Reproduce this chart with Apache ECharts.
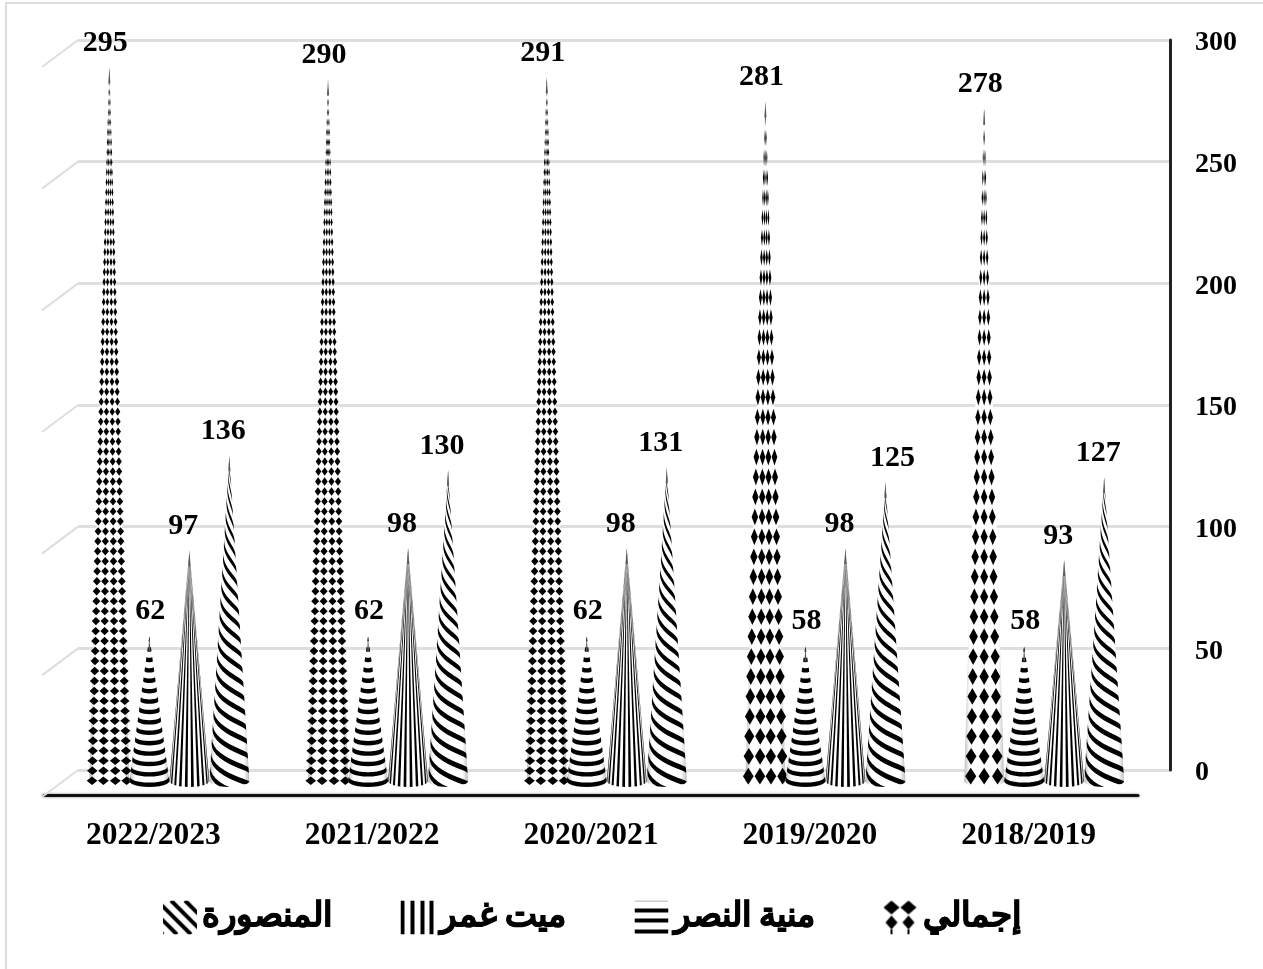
<!DOCTYPE html>
<html>
<head>
<meta charset="utf-8">
<title>chart</title>
<style>
html, body { margin: 0; padding: 0; background: #fff; }
/* the source picture is a soft upscaled image */
#main { width: 1263px; height: 969px; filter: blur(0.7px); }
</style>
<script src="https://cdn.jsdelivr.net/npm/echarts@6/dist/echarts.min.js"></script>
</head>
<body>
<div id="main"></div>
<script>
var categories = ['2022/2023', '2021/2022', '2020/2021', '2019/2020', '2018/2019'];
var totalValues = [295, 290, 291, 281, 278];
var muniaValues = [62, 62, 62, 58, 58];
var mitGhamrValues = [97, 98, 98, 98, 93];
var mansouraValues = [136, 130, 131, 125, 127];
var yTicks = [0, 50, 100, 150, 200, 250, 300];
var seriesNames = ['إجمالي', 'منية النصر', 'ميت غمر', 'المنصورة'];

var SERIF = '"Liberation Serif", "Times New Roman", serif';
var coneOffset = [-60, -20, 20, 60];
var coneRadius = 20;
var coneSag = 6;
// diamond texture is stretched differently from one cone to the next
var diamondRow = [10, 10, 10, 20, 20];
var diamondCols = [
    [-0.87, -0.3, 0.3, 0.87],
    [-0.87, -0.3, 0.3, 0.87],
    [-0.87, -0.3, 0.3, 0.87],
    [-0.87, -0.28, 0.28, 0.87],
    [-0.68, 0, 0.68]
];
var labelShift = [-4, 1, -6, -6];

function legendTile(draw) {
    var c = document.createElement('canvas');
    c.width = 34;
    c.height = 34;
    var ctx = c.getContext('2d');
    ctx.fillStyle = '#fff';
    ctx.fillRect(0, 0, 34, 34);
    ctx.fillStyle = '#000';
    draw(ctx);
    return { image: c, repeat: 'no-repeat' };
}

function rhomb(ctx, x, y, w, h) {
    ctx.beginPath();
    ctx.moveTo(x, y - h);
    ctx.lineTo(x + w, y);
    ctx.lineTo(x, y + h);
    ctx.lineTo(x - w, y);
    ctx.closePath();
    ctx.fill();
}

var tiles = [
    legendTile(function (ctx) {
        rhomb(ctx, 8, 7, 8, 7);
        rhomb(ctx, 25, 7, 8, 7);
        rhomb(ctx, 8, 22, 6, 7);
        rhomb(ctx, 25, 22, 6, 7);
        ctx.fillRect(7, 29, 2, 5);
        ctx.fillRect(24, 29, 2, 5);
    }),
    legendTile(function (ctx) {
        ctx.fillStyle = '#999';
        ctx.fillRect(0, 0, 34, 1);
        ctx.fillStyle = '#000';
        ctx.fillRect(0, 8, 34, 4);
        ctx.fillRect(0, 18, 34, 4);
        ctx.fillRect(0, 29, 34, 4);
    }),
    legendTile(function (ctx) {
        ctx.fillRect(0, 0, 4, 34);
        ctx.fillRect(10, 0, 4, 34);
        ctx.fillRect(20, 0, 4, 34);
        ctx.fillRect(29, 0, 4, 34);
    }),
    legendTile(function (ctx) {
        ctx.lineWidth = 4;
        ctx.strokeStyle = '#000';
        for (var i = -34; i < 40; i += 14) {
            ctx.beginPath();
            ctx.moveTo(i, 0);
            ctx.lineTo(i + 34, 34);
            ctx.stroke();
        }
    })
];

function coneChildren(kind, cat, tx, ty, by) {
    var H = by - ty;
    var kids = [];

    function pt(deg, d) {
        d = Math.max(0, Math.min(H, d));
        var a = deg * Math.PI / 180;
        var k = d / H;
        return [tx + coneRadius * k * Math.sin(a), ty + d + coneSag * k * (Math.cos(a) - 1)];
    }
    function add(points) {
        kids.push({ type: 'polygon', silent: true, shape: { points: points }, style: { fill: '#000' } });
    }
    // band between two curves running across the visible half of the cone
    function band(d0, w, slope) {
        var top = [], bottom = [];
        for (var deg = -90; deg <= 90; deg += 15) {
            var dd = d0 + slope * (deg + 90) / 180;
            top.push(pt(deg, dd));
            bottom.unshift(pt(deg, dd + w));
        }
        add(top.concat(bottom));
    }

    // white body first
    var body = [[tx, ty]];
    for (var deg = -90; deg <= 90; deg += 10) {
        body.push(pt(deg, H));
    }
    kids.push({
        type: 'polygon',
        silent: true,
        shape: { points: body },
        style: {
            fill: {
                type: 'linear', x: 0, y: 0, x2: 1, y2: 0,
                colorStops: [
                    { offset: 0, color: '#bbb' },
                    { offset: 0.14, color: '#fff' },
                    { offset: 0.86, color: '#fff' },
                    { offset: 1, color: '#bbb' }
                ]
            }
        }
    });

    if (kind === 0) {
        var rowH = diamondRow[cat];
        var cols = diamondCols[cat];
        var halfH = rowH * 0.42;
        var halfW = cols.length === 3 ? 0.28 : 0.27;
        for (var d = H - rowH * 0.45; d > 4; d -= rowH) {
            var k = d / H;
            for (var c = 0; c < cols.length; c++) {
                var cx = tx + coneRadius * k * cols[c];
                var cy = ty + d - coneSag * k * 0.3;
                var w = coneRadius * k * halfW;
                add([[cx, cy - halfH], [cx + w, cy], [cx, cy + halfH], [cx - w, cy]]);
            }
        }
    } else if (kind === 1) {
        for (var d1 = H - 4.4; d1 > -5; d1 -= 10.4) {
            band(d1, 4.4, 0);
        }
    } else if (kind === 2) {
        for (var a1 = -85; a1 < 85; a1 += 18) {
            add([[tx, ty], pt(a1, H), pt(a1 + 8, H)]);
        }
    } else {
        for (var d2 = H; d2 > -34; d2 -= 14.5) {
            band(d2, 5.5, 30);
        }
    }
    // thin grey needle so the very tip stays visible
    kids.push({
        type: 'polygon',
        silent: true,
        shape: { points: [[tx, ty], [tx + 1, ty + 16], [tx - 1, ty + 16]] },
        style: { fill: '#555' }
    });
    return kids;
}

function renderCone(kind, values) {
    return function (params, api) {
        var i = params.dataIndex;
        var v = api.value(1);
        var tip = api.coord([i, v]);
        var base = api.coord([i, 0]);
        var tx = tip[0] + coneOffset[kind];
        var kids = coneChildren(kind, i, tx, tip[1], base[1]);
        var nudge = (kind === 3 && i === 3) ? 13 : 0;
        kids.push({
            type: 'text',
            silent: true,
            x: tx + labelShift[kind] + nudge,
            y: tip[1] - 24,
            style: {
                text: String(v),
                font: 'bold 30px ' + SERIF,
                fill: '#000',
                align: 'center',
                verticalAlign: 'middle'
            }
        });
        return { type: 'group', children: kids };
    };
}

function coneSeries(kind, values) {
    return {
        name: seriesNames[kind],
        type: 'custom',
        xAxisIndex: 2,
        yAxisIndex: 2,
        clip: false,
        z: 5,
        itemStyle: { color: tiles[kind] },
        encode: { x: 0, y: 1 },
        data: values.map(function (v, i) { return [i, v]; }),
        renderItem: renderCone(kind, values)
    };
}

var chart = echarts.init(document.getElementById('main'), null, { renderer: 'canvas' });

var option = {
    animation: false,
    backgroundColor: '#fff',
    graphic: [
        { type: 'line', shape: { x1: 5, y1: 3, x2: 1263, y2: 3 }, style: { stroke: '#ddd', lineWidth: 2 }, silent: true },
        { type: 'line', shape: { x1: 6, y1: 3, x2: 6, y2: 969 }, style: { stroke: '#ddd', lineWidth: 2 }, silent: true }
    ],
    legend: {
        left: 163,
        top: 900,
        padding: 0,
        itemWidth: 34,
        itemHeight: 34,
        itemGap: 68,
        icon: 'rect',
        selectedMode: false,
        data: seriesNames.slice().reverse(),
        textStyle: {
            color: '#000',
            fontFamily: SERIF,
            fontWeight: 'bold',
            fontSize: 34,
            textBorderColor: '#000',
            textBorderWidth: 1,
            padding: [6, 0, 0, 0]
        }
    },
    grid: [
        { left: 78, top: 40, width: 1092, height: 730 },
        { left: 44, top: 100, width: 1094, height: 695 },
        { left: 60, top: 55, width: 1093.5, height: 732 }
    ],
    xAxis: [
        { gridIndex: 0, type: 'category', data: categories, show: false },
        {
            gridIndex: 1,
            type: 'category',
            data: categories,
            axisTick: { show: false },
            axisLine: { lineStyle: { color: '#111', width: 3, shadowBlur: 3, shadowColor: '#888' } },
            axisLabel: { color: '#000', fontFamily: SERIF, fontWeight: 'bold', fontSize: 31.5, margin: 25 }
        },
        { gridIndex: 2, type: 'category', data: categories, show: false }
    ],
    yAxis: [
        {
            gridIndex: 0,
            type: 'value',
            position: 'right',
            min: 0,
            max: 300,
            interval: 50,
            axisLine: { show: true, lineStyle: { color: '#222', width: 3 } },
            axisTick: { show: false },
            splitLine: { show: true, lineStyle: { color: '#dedede', width: 3 } },
            axisLabel: {
                margin: 25,
                align: 'left',
                formatter: '{t|{value}}',
                rich: {
                    t: {
                        color: '#000',
                        fontFamily: SERIF,
                        fontWeight: 'bold',
                        fontSize: 28,
                        padding: [6, 0, 0, 0]
                    }
                }
            }
        },
        { gridIndex: 1, type: 'value', min: 0, max: 300, show: false },
        { gridIndex: 2, type: 'value', min: 0, max: 300, show: false }
    ],
    series: [
        {
            // side wall of the 3D frame
            type: 'custom',
            name: 'wall',
            xAxisIndex: 0,
            yAxisIndex: 0,
            clip: false,
            z: 1,
            silent: true,
            encode: { y: 0 },
            data: yTicks.map(function (t) { return [t]; }),
            renderItem: function (params, api) {
                var y = api.coord([0, api.value(0)])[1];
                var x = params.coordSys.x;
                return {
                    type: 'line',
                    shape: { x1: x, y1: y, x2: x - 36, y2: y + 27 },
                    style: { stroke: '#dedede', lineWidth: 2 }
                };
            }
        },
        coneSeries(0, totalValues),
        coneSeries(1, muniaValues),
        coneSeries(2, mitGhamrValues),
        coneSeries(3, mansouraValues)
    ]
};

chart.setOption(option);
</script>
</body>
</html>
